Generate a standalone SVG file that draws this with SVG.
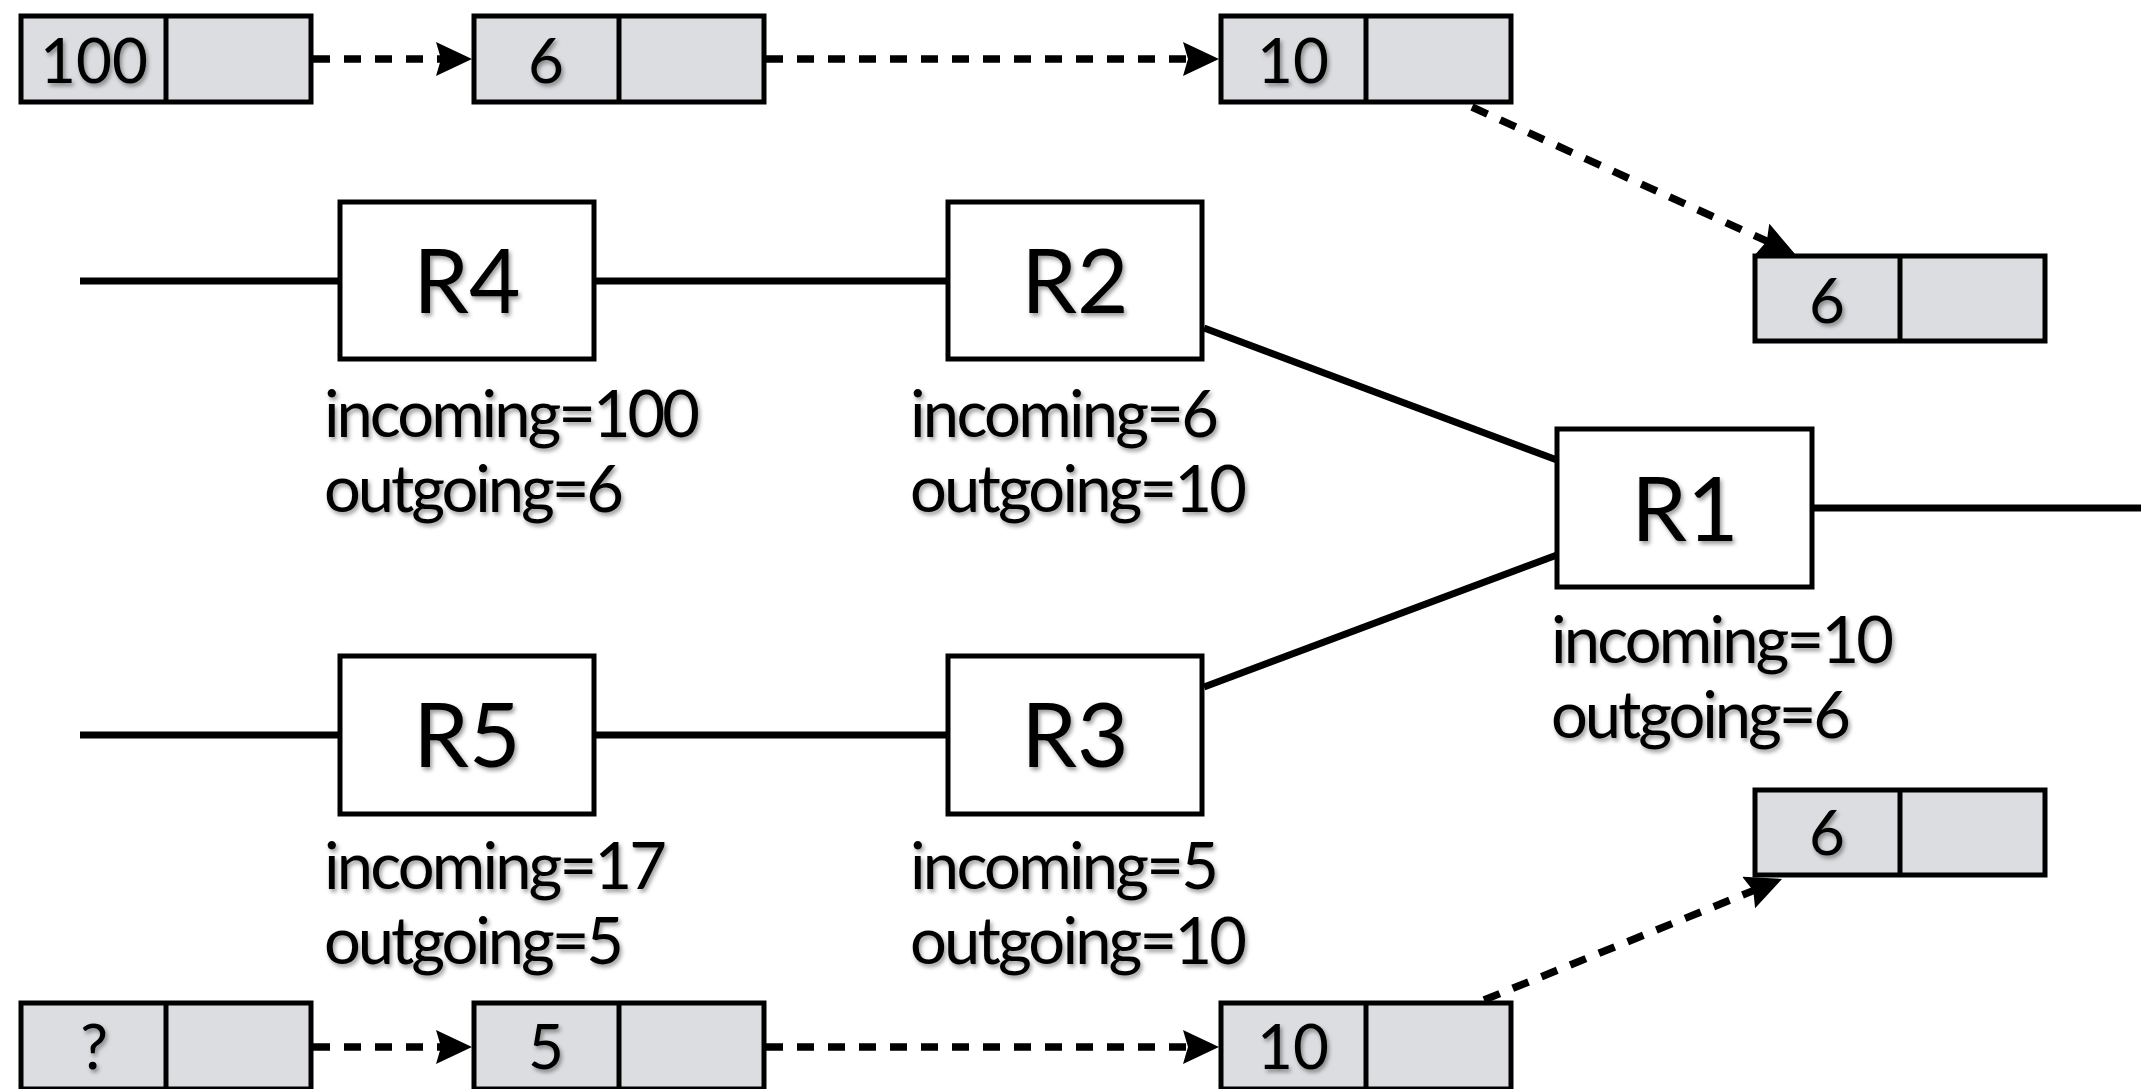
<svg xmlns="http://www.w3.org/2000/svg" width="2141" height="1089" viewBox="0 0 2141 1089">
<defs>
<filter id="sh" x="-10%" y="-20%" width="130%" height="150%">
<feDropShadow dx="2" dy="3" stdDeviation="2" flood-color="#000" flood-opacity="0.4"/>
</filter>
<marker id="ah" markerUnits="userSpaceOnUse" markerWidth="40" markerHeight="40" refX="16" refY="17" orient="auto">
<path d="M0,0 L36,17 L0,34 L5,17 z" fill="#000"/>
</marker>
<style>
.rt{fill:#fff;stroke:#000;stroke-width:5}
.pk{fill:#dcdde0;stroke:#000;stroke-width:5}
.dv{stroke:#000;stroke-width:5}
.ln{stroke:#000;stroke-width:7;fill:none}
.ds{stroke:#000;stroke-width:7.5;fill:none;stroke-dasharray:17 14;marker-end:url(#ah)}
text{font-family:Lato,"Noto Sans","Liberation Sans",sans-serif;fill:#000;filter:url(#sh)}
.big{font-size:89px;text-anchor:middle}
.num{font-size:62px;text-anchor:middle}
.st{font-size:65px}
</style>
</defs>
<rect width="2141" height="1089" fill="#fff"/>
<g id="connectors">
<line class="ln" x1="80" y1="281" x2="340" y2="281"/>
<line class="ln" x1="593" y1="281" x2="948" y2="281"/>
<line class="ln" x1="80" y1="735" x2="340" y2="735"/>
<line class="ln" x1="593" y1="735" x2="948" y2="735"/>
<line class="ln" x1="1204" y1="328" x2="1557" y2="460"/>
<line class="ln" x1="1204" y1="687" x2="1557" y2="555"/>
<line class="ln" x1="1812" y1="508" x2="2141" y2="508"/>
<line class="ds" x1="313" y1="59" x2="452" y2="59"/>
<line class="ds" x1="766" y1="59" x2="1199" y2="59"/>
<line class="ds" x1="1472" y1="107" x2="1776.8" y2="245.7"/>
<line class="ds" x1="313" y1="1047" x2="452" y2="1047"/>
<line class="ds" x1="766" y1="1047" x2="1199" y2="1047"/>
<line class="ds" x1="1484" y1="1000" x2="1763.5" y2="886.5"/>
</g>
<g id="R4">
<rect class="rt" x="340" y="202" width="254" height="157"/>
<text class="big" x="467" y="313">R4</text>
<text class="st" x="324" y="437" textLength="376">incoming=100</text>
<text class="st" x="324" y="512" textLength="300">outgoing=6</text>
</g>
<g id="R2">
<rect class="rt" x="948" y="202" width="254" height="157"/>
<text class="big" x="1075" y="313">R2</text>
<text class="st" x="910" y="437" textLength="309">incoming=6</text>
<text class="st" x="910" y="512" textLength="337">outgoing=10</text>
</g>
<g id="R5">
<rect class="rt" x="340" y="656" width="254" height="158"/>
<text class="big" x="467" y="767">R5</text>
<text class="st" x="324" y="889" textLength="343">incoming=17</text>
<text class="st" x="324" y="964" textLength="300">outgoing=5</text>
</g>
<g id="R3">
<rect class="rt" x="948" y="656" width="254" height="158"/>
<text class="big" x="1075" y="767">R3</text>
<text class="st" x="910" y="889" textLength="309">incoming=5</text>
<text class="st" x="910" y="964" textLength="337">outgoing=10</text>
</g>
<g id="R1">
<rect class="rt" x="1557" y="429" width="255" height="158"/>
<text class="big" x="1685" y="541">R1</text>
<text class="st" x="1551" y="663" textLength="343">incoming=10</text>
<text class="st" x="1551" y="738" textLength="300">outgoing=6</text>
</g>
<g id="pkt-top-1">
<rect class="pk" x="21" y="16" width="290" height="86"/>
<line class="dv" x1="166" y1="16" x2="166" y2="102"/>
<text class="num" x="94" y="83">100</text>
</g>
<g id="pkt-top-2">
<rect class="pk" x="474" y="16" width="290" height="86"/>
<line class="dv" x1="619" y1="16" x2="619" y2="102"/>
<text class="num" x="546" y="83">6</text>
</g>
<g id="pkt-top-3">
<rect class="pk" x="1221" y="16" width="290" height="86"/>
<line class="dv" x1="1366" y1="16" x2="1366" y2="102"/>
<text class="num" x="1293" y="83">10</text>
</g>
<g id="pkt-right-1">
<rect class="pk" x="1755" y="256" width="290" height="85"/>
<line class="dv" x1="1900" y1="256" x2="1900" y2="341"/>
<text class="num" x="1827" y="323">6</text>
</g>
<g id="pkt-right-2">
<rect class="pk" x="1755" y="790" width="290" height="85"/>
<line class="dv" x1="1900" y1="790" x2="1900" y2="875"/>
<text class="num" x="1827" y="855">6</text>
</g>
<g id="pkt-bot-1">
<rect class="pk" x="21" y="1003" width="290" height="86"/>
<line class="dv" x1="166" y1="1003" x2="166" y2="1089"/>
<text class="num" x="94" y="1069">?</text>
</g>
<g id="pkt-bot-2">
<rect class="pk" x="474" y="1003" width="290" height="86"/>
<line class="dv" x1="619" y1="1003" x2="619" y2="1089"/>
<text class="num" x="546" y="1069">5</text>
</g>
<g id="pkt-bot-3">
<rect class="pk" x="1221" y="1003" width="290" height="86"/>
<line class="dv" x1="1366" y1="1003" x2="1366" y2="1089"/>
<text class="num" x="1293" y="1069">10</text>
</g>
</svg>
